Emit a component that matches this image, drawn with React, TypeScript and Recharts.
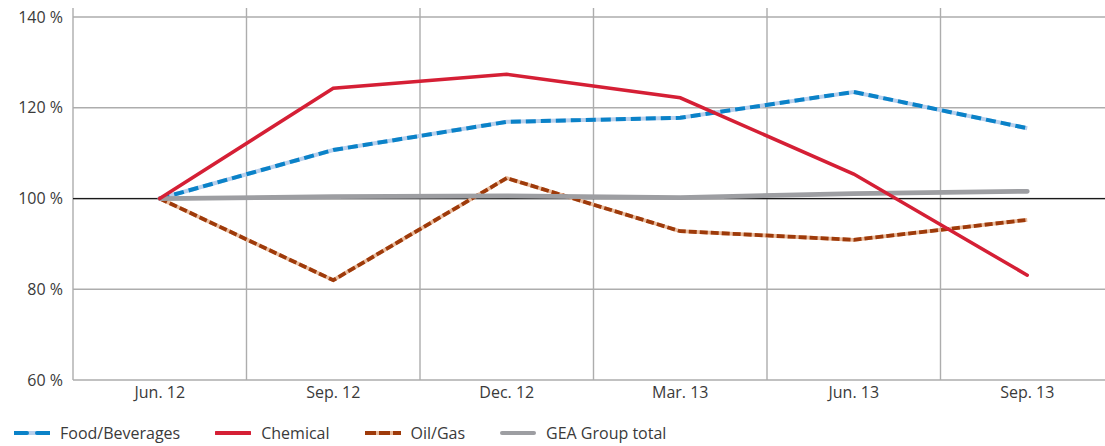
import { LineChart, Line, XAxis, YAxis, CartesianGrid, ReferenceLine } from 'recharts'

const PERIODS = ['Jun. 12', 'Sep. 12', 'Dec. 12', 'Mar. 13', 'Jun. 13', 'Sep. 13']
const FOOD = [100, 110.7, 116.9, 117.8, 123.5, 115.5]
const CHEMICAL = [100, 124.3, 127.4, 122.2, 105.4, 83.1]
const OIL_GAS = [100, 82.0, 104.5, 92.8, 90.9, 95.3]
const GEA_TOTAL = [100, 100.4, 100.6, 100.2, 101.1, 101.6]
const Y_TICKS = [60, 80, 100, 120, 140]

const FONT = "'Open Sans', sans-serif"
const TEXT = '#3a3a3a'
const GRID = '#adadad'

const data = PERIODS.map((p, i) => ({
  x: i,
  label: p,
  food: FOOD[i],
  chemical: CHEMICAL[i],
  oil: OIL_GAS[i],
  gea: GEA_TOTAL[i],
}))

// gridlines sit on the borders between the periods
const boundaries = PERIODS.map((_, i) => i - 0.5).concat(PERIODS.length - 0.5)
const centers = PERIODS.map((_, i) => i)

function LegendIcon({ kind }: { kind: string }) {
  return (
    <svg width={36} height={8} style={{ display: 'block' }}>
      {kind === 'food' && (
        <>
          <line x1={0} y1={4} x2={36} y2={4} stroke="#b7cfec" strokeWidth={4} />
          <line x1={0} y1={4} x2={36} y2={4} stroke="#0a82c8" strokeWidth={4} strokeDasharray="13 10" strokeLinecap="round" />
        </>
      )}
      {kind === 'chemical' && <line x1={1} y1={4} x2={35} y2={4} stroke="#d51f35" strokeWidth={4} strokeLinecap="round" />}
      {kind === 'oil' && (
        <>
          <line x1={0} y1={4} x2={36} y2={4} stroke="#e9bb9c" strokeWidth={4} />
          <line x1={0} y1={4} x2={36} y2={4} stroke="#9e3a0a" strokeWidth={4} strokeDasharray="11 3" />
        </>
      )}
      {kind === 'gea' && <line x1={2} y1={4} x2={34} y2={4} stroke="#9d9ea2" strokeWidth={4} strokeLinecap="round" />}
    </svg>
  )
}

const LEGEND = [
  { kind: 'food', name: 'Food/Beverages' },
  { kind: 'chemical', name: 'Chemical' },
  { kind: 'oil', name: 'Oil/Gas' },
  { kind: 'gea', name: 'GEA Group total' },
]

export default function App() {
  return (
    <div style={{ position: 'fixed', left: 0, top: 0, width: 1105, height: 446, overflow: 'hidden', fontFamily: FONT, background: '#fff' }}>
      <LineChart width={1120} height={410} data={data} margin={{ top: 8, right: 6, left: 0, bottom: 0 }}>
        <CartesianGrid stroke={GRID} strokeWidth={1.4} syncWithTicks />
        <XAxis
          dataKey="x"
          type="number"
          domain={[-0.5, PERIODS.length - 0.5]}
          ticks={boundaries}
          interval={0}
          height={0}
          tick={() => <g />}
          tickSize={23}
          tickLine={{ stroke: GRID, strokeWidth: 1.4 }}
          axisLine={{ stroke: GRID, strokeWidth: 1.4 }}
        />
        <XAxis
          xAxisId="lab"
          dataKey="x"
          type="number"
          domain={[-0.5, PERIODS.length - 0.5]}
          ticks={centers}
          interval={0}
          height={30}
          tickSize={0}
          tickMargin={7}
          axisLine={false}
          tickLine={false}
          tickFormatter={(v: number) => PERIODS[v]}
          tick={{ fill: TEXT, fontSize: 16, fontFamily: FONT }}
        />
        <YAxis
          type="number"
          domain={[60, 142]}
          ticks={Y_TICKS}
          width={73}
          tickSize={0}
          tickMargin={10}
          axisLine={false}
          tickLine={false}
          tickFormatter={(v: number) => `${v} %`}
          tick={{ fill: TEXT, fontSize: 16, fontFamily: FONT }}
        />
        <ReferenceLine y={100} stroke="#1a1a1a" strokeWidth={1.2} />
        <Line dataKey="food" stroke="#b7cfec" strokeWidth={4} dot={false} activeDot={false} isAnimationActive={false} />
        <Line dataKey="food" stroke="#0a82c8" strokeWidth={4} strokeDasharray="10 5" dot={false} activeDot={false} isAnimationActive={false} />
        <Line dataKey="oil" stroke="#e9bb9c" strokeWidth={3.8} dot={false} activeDot={false} isAnimationActive={false} />
        <Line dataKey="oil" stroke="#9e3a0a" strokeWidth={3.8} strokeDasharray="8 3" dot={false} activeDot={false} isAnimationActive={false} />
        <Line dataKey="gea" stroke="#9d9ea2" strokeWidth={4.8} strokeLinecap="round" dot={false} activeDot={false} isAnimationActive={false} />
        <Line dataKey="chemical" stroke="#d51f35" strokeWidth={3.5} strokeLinecap="round" dot={false} activeDot={false} isAnimationActive={false} />
      </LineChart>
      <div style={{ position: 'absolute', left: 14, top: 420, display: 'flex', alignItems: 'center', fontSize: 16, color: TEXT, whiteSpace: 'nowrap' }}>
        {LEGEND.map(item => (
          <div key={item.kind} style={{ display: 'flex', alignItems: 'center', marginRight: 35 }}>
            <LegendIcon kind={item.kind} />
            <span style={{ marginLeft: 10, lineHeight: '26px' }}>{item.name}</span>
          </div>
        ))}
      </div>
    </div>
  )
}
